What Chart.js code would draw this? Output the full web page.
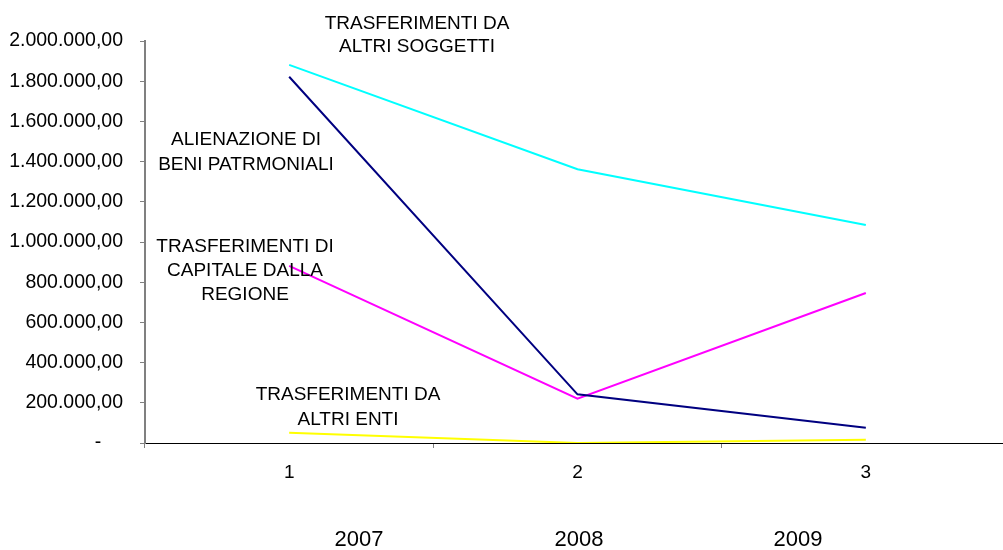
<!DOCTYPE html>
<html>
<head>
<meta charset="utf-8">
<script src="https://cdn.jsdelivr.net/npm/chart.js@4/dist/chart.umd.min.js"></script>
<style>
  html, body { margin: 0; padding: 0; overflow: hidden; background: #fff; }
  #wrap { width: 1010px; height: 550px; position: relative; }
</style>
</head>
<body>
<div id="wrap"><canvas id="entrate"></canvas></div>
<script>
// categories and years
var categories = ['1', '2', '3'];
var years = ['2007', '2008', '2009'];

// series values (euro)
var altriSoggetti = [1881000, 1362000, 1085000];
var alienazione = [1822000, 242000, 76000];
var regione = [881000, 220000, 746000];
var altriEnti = [51000, 0, 16000];

// series names as drawn next to the lines
var nameAltriSoggetti = ['TRASFERIMENTI DA', 'ALTRI SOGGETTI'];
var nameAlienazione = ['ALIENAZIONE DI', 'BENI PATRMONIALI'];
var nameRegione = ['TRASFERIMENTI DI', 'CAPITALE DALLA', 'REGIONE'];
var nameAltriEnti = ['TRASFERIMENTI DA', 'ALTRI ENTI'];

function euro(v) {
  if (v === 0) return '-    ';
  var parts = Math.round(v).toString().replace(/\B(?=(\d{3})+(?!\d))/g, '.');
  return parts + ',00';
}

var FONT = 'Liberation Sans, Arial, sans-serif';

// text boxes drawn over the plot
var textBoxes = {
  id: 'textBoxes',
  afterDraw: function(chart) {
    var ctx = chart.ctx;
    ctx.save();
    ctx.fillStyle = '#000';
    ctx.textAlign = 'center';
    ctx.textBaseline = 'middle';
    ctx.font = '19px ' + FONT;
    function block(lines, x, y, lh) {
      lines.forEach(function(t, i) { ctx.fillText(t, x, y + i * lh); });
    }
    block(nameAltriSoggetti, 417, 24, 23);
    block(nameAlienazione, 246, 140, 25);
    block(nameRegione, 245, 247, 24);
    block(nameAltriEnti, 348, 395, 25);
    ctx.font = '22px ' + FONT;
    var yx = [359, 579, 798];
    years.forEach(function(y, i) { ctx.fillText(y, yx[i], 540); });
    ctx.restore();
  }
};

const ctx = document.getElementById('entrate').getContext('2d');
const chart = new Chart(ctx, {
  type: 'line',
  data: {
    labels: categories,
    datasets: [
      { label: nameAltriSoggetti.join(' '), data: altriSoggetti, borderColor: '#00FFFF' },
      { label: nameAlienazione.join(' '), data: alienazione, borderColor: '#000080' },
      { label: nameRegione.join(' '), data: regione, borderColor: '#FF00FF' },
      { label: nameAltriEnti.join(' '), data: altriEnti, borderColor: '#FFFF00' }
    ]
  },
  options: {
    responsive: true,
    maintainAspectRatio: false,
    animation: false,
    layout: { padding: { top: 41, right: 0, left: 0, bottom: 0 } },
    elements: {
      line: { borderWidth: 2, tension: 0 },
      point: { radius: 0, hoverRadius: 0 }
    },
    plugins: {
      legend: { display: false },
      tooltip: { enabled: false }
    },
    scales: {
      x: {
        offset: true,
        grid: { drawOnChartArea: false, drawTicks: true, tickLength: 5, color: '#808080', offset: true },
        border: { color: '#000', width: 1 },
        ticks: { color: '#000', font: { family: FONT, size: 19 }, padding: 13 },
        afterFit: function(s) { s.height = 107; }
      },
      y: {
        min: 0,
        max: 2000000,
        grid: { drawOnChartArea: false, drawTicks: true, tickLength: 5, color: '#808080' },
        border: { color: '#808080', width: 2 },
        ticks: {
          stepSize: 200000,
          color: '#000',
          padding: 17,
          font: { family: FONT, size: 19.5 },
          callback: function(v) { return euro(v); }
        },
        afterFit: function(s) { s.width = 145; }
      }
    }
  },
  plugins: [textBoxes]
});
</script>
</body>
</html>
